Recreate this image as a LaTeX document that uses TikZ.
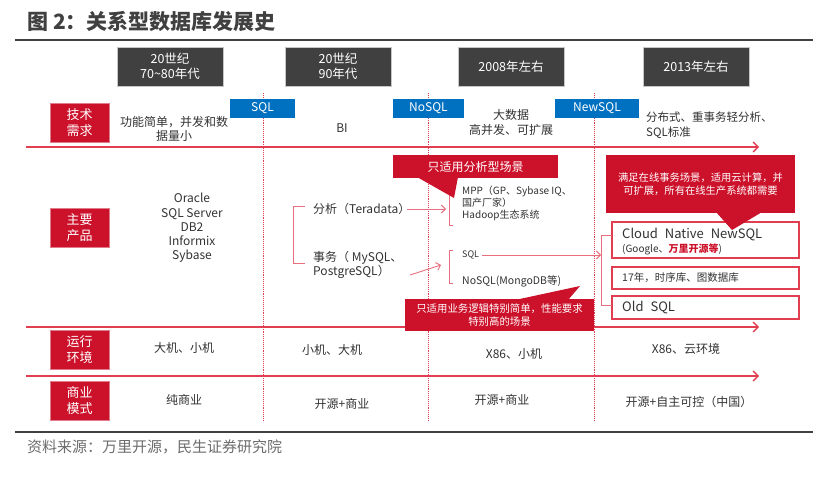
\documentclass[tikz,border=0pt]{standalone}
\usepackage{fontspec}
\setmainfont{Noto Sans CJK SC}
\usetikzlibrary{arrows.meta}
\definecolor{myred}{RGB}{204,17,42}
\definecolor{linered}{RGB}{226,62,82}
\definecolor{brk}{RGB}{230,110,125}
\definecolor{darkbox}{RGB}{64,64,64}
\definecolor{txt}{RGB}{50,50,50}
\definecolor{blu}{RGB}{0,112,192}
\newcommand{\fs}[2]{\fontsize{#1}{#2}\selectfont}
\begin{document}
\begin{tikzpicture}[x=1pt,y=-1pt,
  hdr/.style={fill=darkbox, draw=gray!45, line width=0.8pt, text=white, minimum width=106pt, minimum height=39pt, align=center, font=\fs{12.5}{15}, inner sep=0pt},
  lbl/.style={fill=myred, draw=myred!55, line width=0.8pt, text=white, minimum width=59pt, minimum height=39pt, align=center, font=\fs{13}{16}, inner sep=0pt},
  tag/.style={fill=blu, text=white, minimum height=19pt, font=\fs{12}{14}, inner sep=0pt},
  body/.style={text=txt, font=\fs{12}{14}, align=center, inner sep=0pt},
  lbody/.style={text=txt, align=left, anchor=west, inner sep=0pt},
  callout/.style={fill=myred, text=white, align=center, inner sep=0pt},
  pbox/.style={draw=linered, fill=white, line width=1.1pt, minimum width=187pt, inner sep=0pt},
  rowline/.style={draw=linered, line width=1.3pt, -{Straight Barb[length=5pt,width=10pt]}},
  vdot/.style={draw=linered, densely dotted, line width=0.9pt},
  bracket/.style={draw=brk, line width=0.9pt},
  arr/.style={draw=brk, line width=0.9pt, -{Straight Barb[length=4pt,width=8pt]}},
  rule/.style={draw=darkbox, line width=2pt}
]
\useasboundingbox (0,0) rectangle (838,482);

% title and rules
\node[anchor=west, text=darkbox, font=\fs{21}{24}\bfseries, inner sep=0pt] (title) at (27,22) {图 2：关系型数据库发展史};
\coordinate (rt1) at (15,40); \coordinate (rt2) at (813,40);
\draw[rule] (rt1) -- (rt2);
\coordinate (rb1) at (15,432); \coordinate (rb2) at (813,432);
\draw[rule] (rb1) -- (rb2);
\node[anchor=west, text=gray!85!black, font=\fs{15}{18}, inner sep=0pt] (src) at (27,447) {资料来源：万里开源，民生证券研究院};

% header boxes
\node[hdr] (h1) at (170,66.5) {20世纪\\70\textasciitilde80年代};
\node[hdr] (h2) at (338,66.5) {20世纪\\90年代};
\node[hdr] (h3) at (511,66.5) {2008年左右};
\node[hdr] (h4) at (696,66.5) {2013年左右};

% dotted verticals
\foreach \x/\n in {263/a,428/b,594/c}{
  \coordinate (vt\n) at (\x,93); \coordinate (vb\n) at (\x,420);
  \draw[vdot] (vt\n) -- (vb\n);
}

% row lines
\coordinate (l1s) at (26,147); \coordinate (l1e) at (759,147);
\coordinate (l2s) at (26,327); \coordinate (l2e) at (759,327);
\coordinate (l3s) at (26,376); \coordinate (l3e) at (759,376);
\draw[rowline] (l1s) -- (l1e);
\draw[rowline] (l2s) -- (l2e);
\draw[rowline] (l3s) -- (l3e);

% left labels
\node[lbl] (k1) at (79.5,123) {技术\\需求};
\node[lbl] (k2) at (79.5,227.5) {主要\\产品};
\node[lbl] (k3) at (79.5,350) {运行\\环境};
\node[lbl] (k4) at (79.5,401) {商业\\模式};

% blue tags
\node[tag, minimum width=65pt] (sqltag) at (262.5,108.5) {SQL};
\node[tag, minimum width=71pt] (nosqltag) at (428.5,108.5) {NoSQL};
\node[tag, minimum width=84pt] (newsqltag) at (597,108.5) {NewSQL};

% row 1
\node[body] (r1a) at (174,129) {功能简单，并发和数\\据量小};
\node[body] (r1b) at (342,128) {BI};
\node[body, font=\fs{12}{15}] (r1c) at (511,122.5) {大数据\\高并发、可扩展};
\node[lbody, font=\fs{11.5}{15}] (r1d) at (646,125) {分布式、重事务轻分析、\\SQL标准};

% row 2, column 1
\node[body, font=\fs{12}{14.3}] (prod1) at (192,228) {Oracle\\SQL Server\\DB2\\Informix\\Sybase};

% column 2
\coordinate (b1t) at (305,206); \coordinate (b1b) at (305,263);
\draw[bracket] (b1t) -- ++(-12,0) |- (b1b);
\node[lbody, font=\fs{12}{14}] (anal) at (313,209) {分析（Teradata）};
\node[lbody, font=\fs{12}{14}] (tran) at (313,265) {事务（ MySQL、\\PostgreSQL）};

% column 3 brackets
\coordinate (b2t) at (453,188); \coordinate (b2b) at (453,225);
\draw[bracket] (b2t) -- ++(-4,0) |- (b2b);
\coordinate (b3t) at (453,250); \coordinate (b3b) at (453,283);
\draw[bracket] (b3t) -- ++(-4,0) |- (b3b);
\coordinate (a1s) at (407,209); \coordinate (a1e) at (446,209);
\draw[arr] (a1s) -- (a1e);
\coordinate (a2s) at (410,275); \coordinate (a2e) at (441,265);
\draw[arr] (a2s) -- (a2e);

\node[lbody, font=\fs{10}{12}] (mpp) at (462,203) {MPP（GP、Sybase IQ、\\国产厂家）\\Hadoop生态系统};
\node[lbody, font=\fs{9}{11}] (sqlsm) at (462,255) {SQL};
\node[lbody, font=\fs{10.5}{12}] (nosql) at (462,281) {NoSQL(MongoDB等)};

% column 4 boxes
\node[pbox, minimum height=36pt] (cn) at (705.5,240) {};
\node[pbox, minimum height=22pt] (ts) at (705.5,278) {};
\node[pbox, minimum height=23pt] (old) at (705.5,307.5) {};

\coordinate (b4t) at (612,235); \coordinate (b4b) at (612,305);
\draw[bracket] (b4t) -- ++(-11,0) |- (b4b);
\coordinate (a3s) at (482,255); \coordinate (a3e) at (601,255);
\draw[arr] (a3s) -- (a3e);

% callouts
\node[callout, minimum width=165pt, minimum height=23pt, font=\fs{12}{14}] (c1) at (475.5,166.5) {只适用分析型场景};
\fill[myred] (417,177) -- (458,177) -- (454,198) -- cycle;

\node[callout, minimum width=189pt, minimum height=32pt, font=\fs{10.4}{13}] (c2) at (499.5,315) {只适用业务逻辑特别简单，性能要求\\特别高的场景};
\fill[myred] (515,300) -- (568,300) -- (580,286) -- cycle;

\node[callout, minimum width=189pt, minimum height=58pt, font=\fs{10.3}{13}] (c3) at (700.5,184) {满足在线事务场景，适用云计算，并\\可扩展，所有在线生产系统都需要};
\fill[myred] (716,212) -- (762,212) -- (732,230) -- cycle;

% box texts (above pointer)
\node[lbody, font=\fs{13}{15}] (cnt) at (622,235) {Cloud\hspace{4pt} Native\hspace{4pt} NewSQL};
\node[lbody, font=\fs{10}{12}] (cng) at (622,249.5) {(Google、\textcolor{myred}{\bfseries 万里开源等})};
\node[lbody, font=\fs{10.5}{12}] (tst) at (622,278) {17年，时序库、图数据库};
\node[lbody, font=\fs{13}{15}] (oldt) at (622,308) {Old\hspace{4pt} SQL};

% row 3
\node[body] (r3a) at (184,348) {大机、小机};
\node[body] (r3b) at (332,350) {小机、大机};
\node[body] (r3c) at (514,354) {X86、小机};
\node[body] (r3d) at (686,349) {X86、云环境};

% row 4
\node[body] (r4a) at (184,400) {纯商业};
\node[body] (r4b) at (342,404) {开源+商业};
\node[body] (r4c) at (502,400) {开源+商业};
\node[body] (r4d) at (689,402) {开源+自主可控（中国）};
\end{tikzpicture}
\end{document}
